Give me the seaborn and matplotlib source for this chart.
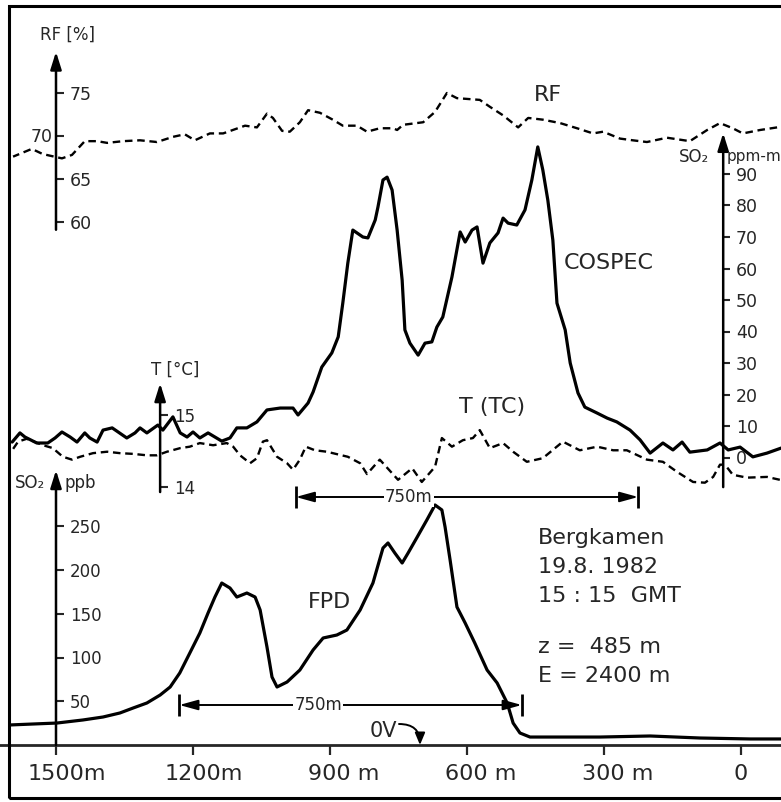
import matplotlib
matplotlib.use("Agg")
import matplotlib.pyplot as plt
import seaborn as sns
from matplotlib.patches import Rectangle
from matplotlib.transforms import ScaledTranslation

# ---------------- data (x = distance in m) ----------------
rf_dist = [1594, 1553, 1529, 1487, 1465, 1437, 1410, 1388, 1353, 1316, 1279, 1244, 1218, 1196, 1163,
           1134, 1086, 1060, 1038, 1025, 1005, 988, 966, 948, 922, 894, 872, 841, 819, 791,
           762, 753, 740, 696, 670, 644, 622, 572, 550, 521, 488, 466, 434, 396, 359,
           324, 302, 265, 237, 206, 162, 112, 74, 46, 18, -4, -42, -79]
rf_pct = [67.6, 68.5, 67.9, 67.4, 67.8, 69.4, 69.4, 69.2, 69.4, 69.5, 69.3, 69.9, 70.2, 69.5, 70.3,
          70.3, 71.2, 71.0, 72.6, 72.1, 70.6, 70.5, 71.6, 73.0, 72.7, 71.9, 71.2, 71.2, 70.5, 70.9,
          70.9, 70.7, 71.3, 71.6, 72.8, 75.0, 74.4, 74.2, 73.4, 72.4, 71.0, 72.1, 71.9, 71.5, 70.9,
          70.3, 70.5, 69.7, 69.5, 69.3, 69.8, 69.4, 70.7, 71.5, 70.9, 70.3, 70.7, 71.0]

cospec_dist = [1596, 1579, 1568, 1542, 1518, 1502, 1487, 1469, 1454, 1437,
               1426, 1410, 1397, 1377, 1364, 1345, 1327, 1316, 1301, 1277,
               1266, 1244, 1228, 1213, 1200, 1185, 1167, 1137, 1119, 1104,
               1082, 1060, 1038, 1009, 981, 970, 948, 937, 918, 896,
               882, 872, 861, 850, 828, 817, 801, 795, 784, 775,
               764, 753, 742, 736, 725, 707, 692, 677, 666, 653,
               633, 615, 604, 589, 578, 565, 550, 532, 521, 510,
               491, 473, 458, 445, 434, 423, 412, 403, 385, 374,
               357, 342, 315, 293, 272, 243, 221, 199, 171, 149,
               129, 112, 74, 46, 28, 2, -26, -57, -88]
cospec_ppmm = [4.9, 7.8, 6.5, 4.6, 4.6, 6.2, 8.1, 6.5, 4.9, 7.8,
               6.2, 4.9, 8.7, 9.4, 8.1, 6.2, 7.8, 9.4, 7.8, 10.3,
               8.7, 12.9, 7.8, 6.5, 8.1, 6.2, 7.8, 5.2, 6.2, 9.4,
               9.4, 11.3, 15.1, 15.7, 15.7, 13.5, 17.3, 20.8, 28.7, 33.2,
               38.3, 49.0, 61.7, 72.2, 70.0, 69.7, 75.4, 79.5, 88.1, 89.0,
               84.9, 72.2, 56.3, 40.5, 36.3, 32.5, 36.3, 36.7, 41.4, 44.6,
               57.3, 71.6, 68.4, 72.2, 73.2, 61.7, 68.1, 71.3, 76.0, 74.4,
               73.8, 78.6, 88.1, 98.6, 91.3, 81.7, 69.0, 49.0, 40.5, 30.0,
               20.5, 16.0, 14.1, 12.5, 11.3, 8.7, 5.6, 1.4, 4.6, 2.4,
               4.9, 1.7, 2.4, 4.6, 2.4, 3.3, 0.2, 1.4, 3.0]

t_dist = [1596, 1583, 1564, 1528, 1507, 1485, 1465, 1447, 1419, 1388,
          1360, 1331, 1301, 1279, 1257, 1228, 1207, 1185, 1156, 1126,
          1112, 1097, 1075, 1060, 1047, 1038, 1016, 994, 981, 966,
          953, 933, 907, 861, 834, 819, 791, 751, 720, 699,
          670, 655, 633, 609, 587, 572, 550, 521, 499, 469,
          434, 390, 353, 315, 280, 250, 206, 171, 140, 105,
          79, 61, 46, 35, 18, -13, -57, -85]
t_degc = [14.51, 14.63, 14.67, 14.58, 14.54, 14.42, 14.38, 14.42, 14.47, 14.49,
          14.47, 14.46, 14.44, 14.44, 14.49, 14.54, 14.56, 14.61, 14.58, 14.61,
          14.56, 14.44, 14.33, 14.40, 14.63, 14.65, 14.42, 14.33, 14.24, 14.38,
          14.56, 14.51, 14.49, 14.42, 14.33, 14.18, 14.38, 14.10, 14.26, 14.07,
          14.28, 14.68, 14.56, 14.65, 14.68, 14.79, 14.54, 14.61, 14.49, 14.35,
          14.40, 14.63, 14.51, 14.56, 14.51, 14.51, 14.38, 14.35, 14.21, 14.07,
          14.06, 14.14, 14.31, 14.31, 14.17, 14.13, 14.14, 14.10]

fpd_dist = [1601, 1550, 1498, 1441, 1397, 1360, 1331, 1301, 1272, 1250,
            1229, 1207, 1185, 1167, 1152, 1137, 1119, 1104, 1082, 1064,
            1053, 1038, 1027, 1016, 994, 966, 937, 915, 885, 863,
            834, 806, 784, 773, 758, 742, 729, 709, 688, 670,
            655, 648, 637, 622, 604, 583, 556, 534, 512, 499,
            484, 462, 418, 309, 199, 90, -20, -88]
fpd_ppb = [22.9, 24.0, 25.1, 28.6, 32.0, 36.6, 42.3, 48.0, 57.1, 66.3,
           82.3, 105.1, 128.0, 150.9, 169.1, 185.1, 179.4, 169.1, 173.7, 169.1,
           154.3, 112.0, 77.7, 66.3, 72.0, 85.7, 108.6, 122.3, 125.7, 131.4,
           154.3, 185.1, 225.1, 230.9, 219.4, 208.0, 219.4, 237.7, 257.1, 274.3,
           268.6, 249.1, 211.4, 157.7, 139.4, 116.6, 85.7, 70.9, 48.0, 25.1,
           13.7, 9.1, 9.1, 9.1, 10.3, 8.0, 6.9, 6.9]

x_ticks = [1500, 1200, 900, 600, 300, 0]
x_tick_labels = ["1500m", "1200m", "900 m", "600 m", "300 m", "0"]
rf_ticks = [60, 65, 70, 75]
rf_tick_labels = ["60", "65", "", "75"]
cospec_ticks = [0, 10, 20, 30, 40, 50, 60, 70, 80, 90]
t_ticks = [14, 15]
ppb_ticks = [50, 100, 150, 200, 250]
span_m = 750
span_starts = [975, 1230]          # left ends of the two "750m" markers
zero_volt_dist = 703
info_lines = ["Bergkamen", "19.8. 1982", "15 : 15  GMT", "", "z =  485 m", "E = 2400 m"]

# ---------------- layout helpers (pixels of the 781x802 canvas) ----------------
W, H = 781, 802
PX_PER_M = 137 / 300.0
X0_PX = 741.0

sns.set_style("white")
plt.rcParams["font.family"] = ["DejaVu Sans"]
plt.rcParams["axes.linewidth"] = 2

fig = plt.figure(figsize=(W / 100, H / 100), dpi=100)


def ylim_for(v_ref, px_ref, px_per_unit):
    return (v_ref - (H - px_ref) / px_per_unit, v_ref + px_ref / px_per_unit)


def fxy(x, y):
    return x / W, 1 - y / H


def new_ax(share=None):
    ax = fig.add_axes([0, 0, 1, 1], sharex=share)
    ax.patch.set_visible(False)
    for s in ax.spines.values():
        s.set_visible(False)
    return ax


base = new_ax()           # FPD (ppb) - carries the distance axis
ax_rf = new_ax(base)
ax_t = new_ax(base)
ax_co = new_ax(base)

LW_SOLID = 2.3
LW_DASH = 1.7

sns.lineplot(x=fpd_dist, y=fpd_ppb, ax=base, color="k", lw=LW_SOLID, estimator=None)
sns.lineplot(x=cospec_dist, y=cospec_ppmm, ax=ax_co, color="k", lw=LW_SOLID, estimator=None)
sns.lineplot(x=rf_dist, y=rf_pct, ax=ax_rf, color="k", lw=LW_DASH, estimator=None)
sns.lineplot(x=t_dist, y=t_degc, ax=ax_t, color="k", lw=LW_DASH, estimator=None)
for a in (ax_rf, ax_t):
    a.lines[-1].set_dashes((3.2, 2.0))
for a in (base, ax_co):
    a.lines[-1].set_solid_joinstyle("round")

base.set_xlim(X0_PX / PX_PER_M, (X0_PX - W) / PX_PER_M)
base.set_ylim(*ylim_for(0, 745, 0.875))
ax_rf.set_ylim(*ylim_for(70, 136, 8.6))
ax_t.set_ylim(*ylim_for(15, 415, 72))
ax_co.set_ylim(*ylim_for(0, 457.5, 3.15))

for a in (base, ax_rf, ax_t, ax_co):
    a.set_xlabel("")
    a.set_ylabel("")

# ---- distance axis ----
base.spines["bottom"].set_visible(True)
base.spines["bottom"].set_position(("data", 0))
base.spines["bottom"].set_linewidth(2)
base.set_xticks(x_ticks)
base.set_xticklabels(x_tick_labels)
base.tick_params(axis="x", direction="out", length=7.5, width=1.6, pad=6,
                 labelsize=16, bottom=True, labelbottom=True)
shifts_px = [11, 11, 14, 14, 14, 0]
for lab, sh in zip(base.get_xticklabels(), shifts_px):
    lab.set_transform(lab.get_transform() + ScaledTranslation(sh / 100, 0, fig.dpi_scale_trans))
for a in (ax_rf, ax_t, ax_co):
    a.tick_params(axis="x", bottom=False, labelbottom=False)


# ---- inner y axes with arrows ----
def inner_axis(ax, d, lo, hi, ticks, labels, fs, length):
    ax.spines["right"].set_position(("data", d))
    ax.yaxis.tick_right()
    ax.set_yticks(ticks)
    ax.set_yticklabels(labels)
    ax.tick_params(axis="y", direction="out", length=length, width=1.5, pad=4,
                   labelsize=fs, right=True, left=False, labelright=True, labelleft=False)
    ax.annotate("", xy=(d, hi), xytext=(d, lo),
                arrowprops=dict(arrowstyle="-|>,head_length=0.7,head_width=0.22",
                                lw=1.8, color="k", shrinkA=0, shrinkB=0, mutation_scale=15))


inner_axis(ax_rf, 1500, 59.1, 79.8, rf_ticks, rf_tick_labels, 12.5, 6)
inner_axis(ax_t, 1272, 13.93, 15.44, t_ticks, [str(v) for v in t_ticks], 12, 6)
inner_axis(ax_co, 39, -9.4, 103, cospec_ticks, [str(v) for v in cospec_ticks], 12.5, 5)
inner_axis(base, 1500, 0, 314, ppb_ticks, [str(v) for v in ppb_ticks], 12, 6)

# ---- 750 m markers ----
for start, ypx in zip(span_starts, [497, 705]):
    yv = (745 - ypx) / 0.875
    end = start - span_m
    base.annotate("", xy=(end, yv), xytext=(start, yv),
                  arrowprops=dict(arrowstyle="<|-|>,head_length=0.8,head_width=0.22",
                                  lw=1.4, color="k", shrinkA=0, shrinkB=0, mutation_scale=14))
    base.vlines([start, end], yv - 13, yv + 13, color="k", lw=2)

for (x, y) in [(409, 497), (318, 705)]:
    fig.text(*fxy(x, y), f"{span_m}m", ha="center", va="center", fontsize=12,
             bbox=dict(facecolor="white", edgecolor="none", pad=0.5))

# ---- 0V marker ----
fig.text(*fxy(383, 731), "0V", ha="center", va="center", fontsize=15)
base.annotate("", xy=(zero_volt_dist, 0), xycoords="data", xytext=fxy(399, 724),
              textcoords="figure fraction",
              arrowprops=dict(arrowstyle="-|>,head_length=0.6,head_width=0.25",
                              connectionstyle="arc3,rad=-0.5", lw=1.4, color="k",
                              shrinkA=0, shrinkB=0, mutation_scale=12))


# ---- texts ----
def t(x, y, s, fs, ha="center"):
    fig.text(*fxy(x, y), s, ha=ha, va="center", fontsize=fs)


t(67, 35, "RF [%]", 12)
t(53, 137, "70", 12.5, ha="right")
t(548, 95, "RF", 16)
t(694, 157, "SO₂", 12)
t(727, 157, "ppm-m", 11, ha="left")
t(609, 263, "COSPEC", 16)
t(175, 370, "T [°C]", 12)
t(492, 407, "T (TC)", 16)
t(30, 483, "SO₂", 12)
t(64, 483, "ppb", 12, ha="left")
t(330, 602, "FPD", 16)
for line, y in zip(info_lines, [538, 567, 596, 622, 647, 676]):
    if line:
        t(538, y, line, 16, ha="left")

# ---- outer frame ----
fig.add_artist(Rectangle(fxy(9, 798), 1.0, (798 - 6) / H, transform=fig.transFigure,
                         fill=False, lw=2.2, edgecolor="k"))

fig.savefig("out.png", dpi=100)
